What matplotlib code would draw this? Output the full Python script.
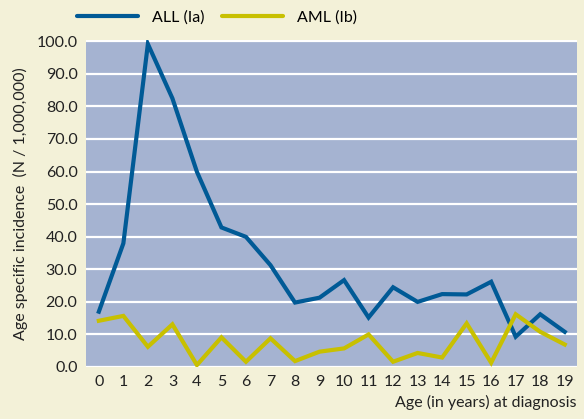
import matplotlib
matplotlib.use("Agg")
import matplotlib.pyplot as plt

ages = list(range(20))
all_vals = [16.9, 37.9, 99.2, 82.5, 59.9, 42.8, 39.9, 31.2, 19.7, 21.2,
            26.6, 15.1, 24.4, 19.9, 22.3, 22.2, 26.1, 9.2, 16.1, 10.7]
aml_vals = [14.1, 15.6, 6.1, 13.0, 0.5, 9.0, 1.5, 8.7, 1.7, 4.6,
            5.6, 9.9, 1.5, 4.2, 2.8, 13.3, 1.2, 16.1, 10.7, 6.8]
yticks = [0, 10, 20, 30, 40, 50, 60, 70, 80, 90, 100]

plt.rcParams['font.family'] = ['Lato', 'DejaVu Sans']

bg = '#F3F1D8'
face = '#A5B3D1'
c_all = '#005A96'
c_aml = '#C8C000'

fig = plt.figure(figsize=(5.84, 4.19), dpi=100, facecolor=bg)
ax = fig.add_axes([0.147, 0.125, 0.841, 0.78])
ax.set_facecolor(face)
for s in ax.spines.values():
    s.set_visible(False)

ax.set_yticks(yticks)
ax.set_yticklabels([f"{v:.1f}" for v in yticks])
ax.set_ylim(0, 100.5)
ax.set_xlim(-0.53, 19.5)
ax.set_xticks(ages)
ax.grid(axis='y', color='white', linewidth=1.6)
ax.set_axisbelow(True)
ax.tick_params(length=0, labelsize=11.5, colors='#222222', pad=6)

l1, = ax.plot(ages, all_vals, color=c_all, linewidth=3, label='ALL (Ia)', solid_joinstyle='miter')
l2, = ax.plot(ages, aml_vals, color=c_aml, linewidth=3, label='AML (Ib)', solid_joinstyle='miter')

ax.set_ylabel('Age specific incidence  (N / 1,000,000)', fontsize=11.5, color='#222222', labelpad=6)
ax.set_xlabel('Age (in years) at diagnosis', fontsize=11.5, color='#222222', loc='right', labelpad=4)

leg = fig.legend(handles=[l1, l2], loc='upper left', bbox_to_anchor=(0.107, 1.01), ncol=2,
                 frameon=False, fontsize=11.5, handlelength=3.8, columnspacing=1.1, handletextpad=0.9)
for h in leg.get_lines():
    h.set_solid_capstyle('round')

fig.savefig('out.png', dpi=100, facecolor=bg)
